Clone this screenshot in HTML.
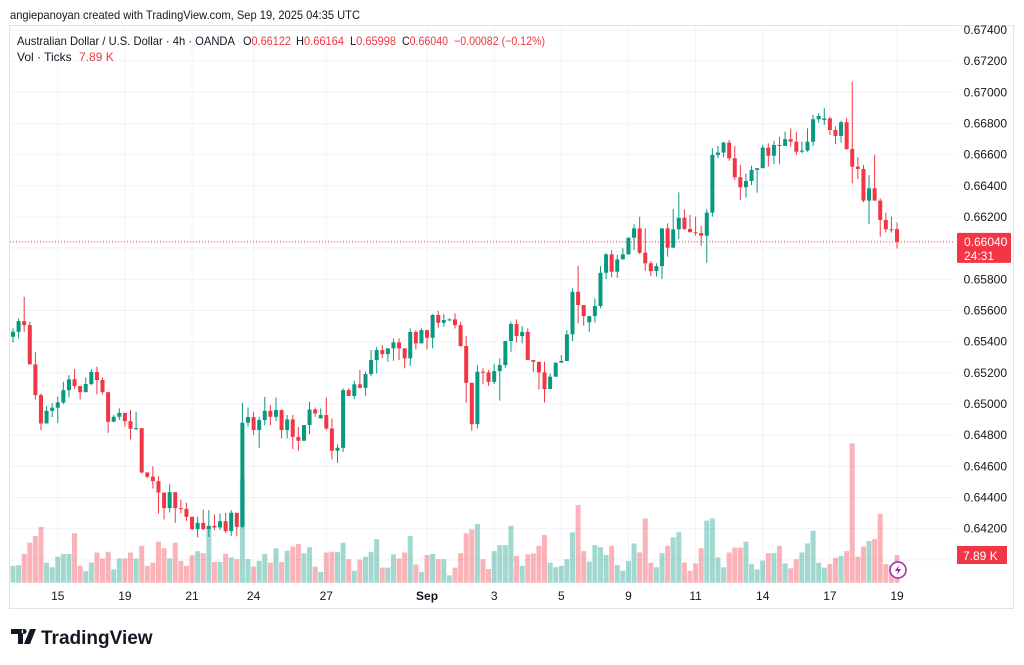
<!DOCTYPE html>
<html><head><meta charset="utf-8"><style>
body{margin:0;background:#fff;width:1024px;height:665px;overflow:hidden;font-family:"Liberation Sans",sans-serif}
svg{display:block}
text{font-family:"Liberation Sans",sans-serif}
</style></head><body>
<svg id="chart" width="1024" height="665" viewBox="0 0 1024 665">
<text x="10" y="19" font-size="12" fill="#131722" textLength="350" lengthAdjust="spacingAndGlyphs">angiepanoyan created with TradingView.com, Sep 19, 2025 04:35 UTC</text>
<rect x="9.5" y="25.5" width="1004" height="583" fill="none" stroke="#e0e3eb"/>
<g id="grid"></g>
<g id="vol"></g>
<g id="candles"></g>
<g id="axis"></g>
<g id="taxis"></g>
<g font-size="12" fill="#131722">
<text x="17" y="45" textLength="218" lengthAdjust="spacingAndGlyphs">Australian Dollar / U.S. Dollar · 4h · OANDA</text>
<text x="243" y="45" textLength="48" lengthAdjust="spacingAndGlyphs">O<tspan fill="#f23645">0.66122</tspan></text>
<text x="296" y="45" textLength="48" lengthAdjust="spacingAndGlyphs">H<tspan fill="#f23645">0.66164</tspan></text>
<text x="350" y="45" textLength="46" lengthAdjust="spacingAndGlyphs">L<tspan fill="#f23645">0.65998</tspan></text>
<text x="402" y="45" textLength="46" lengthAdjust="spacingAndGlyphs">C<tspan fill="#f23645">0.66040</tspan></text>
<text x="454" y="45" fill="#f23645" textLength="91" lengthAdjust="spacingAndGlyphs">−0.00082 (−0.12%)</text>
</g>
<text x="17" y="61" font-size="12" fill="#131722">Vol · Ticks <tspan dx="4" fill="#f23645">7.89 K</tspan></text>
<g>
<path d="M11 629h12v15h-5v-10h-7z M24 629a2.5 2.5 0 1 0 .1 0z M30 629h6l-6 15h-6z" fill="#131722"/>
<text x="41" y="644" font-size="19" font-weight="bold" fill="#131722">TradingView</text>
</g>
<g><circle cx="898" cy="570" r="8" fill="#fff" stroke="#9c27b0" stroke-width="1.5"/><path d="M899 565l-4 6h3l-1 4 4-6h-3z" fill="#9c27b0"/></g>
</svg>
<script>
const closes=[0.65463,0.65532,0.65506,0.65254,0.65057,0.64875,0.64956,0.64976,0.65010,0.65089,0.65158,0.65115,0.65076,0.65128,0.65205,0.65154,0.65076,0.64886,0.64918,0.64943,0.64890,0.64841,0.64845,0.64561,0.64533,0.64505,0.64432,0.64332,0.64434,0.64332,0.64327,0.64276,0.64197,0.64237,0.64197,0.64218,0.64208,0.64248,0.64184,0.64302,0.64212,0.64880,0.64916,0.64833,0.64897,0.64956,0.64918,0.64961,0.64833,0.64901,0.64789,0.64764,0.64865,0.64965,0.64940,0.64929,0.64843,0.64700,0.64719,0.65089,0.65051,0.65126,0.65104,0.65192,0.65282,0.65346,0.65320,0.65357,0.65395,0.65357,0.65293,0.65462,0.65389,0.65474,0.65425,0.65571,0.65521,0.65539,0.65543,0.65506,0.65372,0.65136,0.64871,0.65207,0.65203,0.65142,0.65211,0.65250,0.65404,0.65513,0.65436,0.65463,0.65282,0.65271,0.65203,0.65096,0.65175,0.65265,0.65276,0.65447,0.65720,0.65635,0.65564,0.65564,0.65629,0.65842,0.65960,0.65849,0.65928,0.65960,0.66067,0.66127,0.65971,0.65903,0.65853,0.65885,0.66127,0.66003,0.66121,0.66195,0.66123,0.66102,0.66097,0.66080,0.66228,0.66598,0.66613,0.66677,0.66577,0.66455,0.66391,0.66431,0.66502,0.66513,0.66645,0.66593,0.66662,0.66656,0.66699,0.66683,0.66619,0.66626,0.66683,0.66827,0.66848,0.66833,0.66758,0.66720,0.66808,0.66636,0.66523,0.66508,0.66305,0.66384,0.66305,0.66181,0.66121,0.66117,0.66040];
const opens=[0.65431,0.65463,0.65532,0.65506,0.65254,0.65057,0.64875,0.64956,0.64976,0.65010,0.65089,0.65158,0.65115,0.65076,0.65128,0.65205,0.65154,0.65076,0.64886,0.64918,0.64943,0.64890,0.64841,0.64845,0.64561,0.64533,0.64505,0.64432,0.64332,0.64434,0.64332,0.64327,0.64276,0.64197,0.64237,0.64197,0.64218,0.64208,0.64248,0.64184,0.64302,0.64212,0.64880,0.64916,0.64833,0.64897,0.64956,0.64918,0.64961,0.64833,0.64901,0.64789,0.64764,0.64865,0.64965,0.64908,0.64929,0.64843,0.64700,0.64719,0.65089,0.65051,0.65126,0.65104,0.65192,0.65282,0.65346,0.65320,0.65357,0.65395,0.65357,0.65293,0.65462,0.65389,0.65474,0.65425,0.65571,0.65521,0.65539,0.65543,0.65506,0.65372,0.65136,0.64871,0.65207,0.65203,0.65142,0.65211,0.65250,0.65404,0.65513,0.65436,0.65463,0.65282,0.65271,0.65203,0.65096,0.65175,0.65265,0.65276,0.65447,0.65720,0.65635,0.65524,0.65564,0.65629,0.65842,0.65960,0.65849,0.65928,0.65960,0.66067,0.66127,0.65971,0.65903,0.65853,0.65885,0.66127,0.66003,0.66121,0.66195,0.66123,0.66102,0.66097,0.66080,0.66228,0.66598,0.66613,0.66677,0.66577,0.66455,0.66391,0.66431,0.66502,0.66513,0.66645,0.66593,0.66662,0.66656,0.66699,0.66683,0.66619,0.66626,0.66683,0.66827,0.66823,0.66833,0.66758,0.66720,0.66808,0.66636,0.66523,0.66508,0.66305,0.66384,0.66305,0.66181,0.66121,0.66122];
const highs=[0.65485,0.65550,0.65688,0.65528,0.65335,0.65068,0.64986,0.65004,0.65046,0.65143,0.65185,0.65224,0.65115,0.65171,0.65222,0.65239,0.65171,0.65076,0.64929,0.64972,0.64943,0.64961,0.64950,0.64843,0.64561,0.64601,0.64537,0.64432,0.64486,0.64434,0.64387,0.64366,0.64276,0.64276,0.64323,0.64319,0.64291,0.64298,0.64301,0.64319,0.64301,0.65008,0.64978,0.64950,0.64918,0.65046,0.64993,0.65042,0.64965,0.64929,0.64929,0.64854,0.64864,0.65014,0.64978,0.64972,0.65042,0.64908,0.64741,0.65100,0.65100,0.65149,0.65218,0.65207,0.65346,0.65367,0.65378,0.65357,0.65421,0.65421,0.65357,0.65485,0.65474,0.65485,0.65474,0.65577,0.65598,0.65577,0.65550,0.65582,0.65528,0.65436,0.65136,0.65250,0.65229,0.65218,0.65256,0.65293,0.65404,0.65528,0.65543,0.65500,0.65485,0.65282,0.65271,0.65271,0.65196,0.65265,0.65314,0.65474,0.65742,0.65887,0.65635,0.65564,0.65678,0.65885,0.65967,0.65988,0.65956,0.65999,0.66067,0.66153,0.66202,0.66127,0.65917,0.65903,0.66127,0.66159,0.66251,0.66358,0.66249,0.66213,0.66202,0.66142,0.66249,0.66641,0.66656,0.66683,0.66694,0.66656,0.66534,0.66480,0.66529,0.66513,0.66662,0.66673,0.66688,0.66715,0.66747,0.66769,0.66747,0.66683,0.66769,0.66855,0.66866,0.66898,0.66844,0.66780,0.66818,0.66834,0.67068,0.66583,0.66534,0.66469,0.66598,0.66320,0.66227,0.66202,0.66164];
const lows=[0.65393,0.65421,0.65463,0.65254,0.65029,0.64832,0.64875,0.64916,0.64879,0.64999,0.65042,0.65098,0.65029,0.65076,0.65121,0.65062,0.65062,0.64815,0.64884,0.64897,0.64854,0.64773,0.64832,0.64554,0.64524,0.64458,0.64298,0.64259,0.64304,0.64237,0.64298,0.64250,0.64190,0.64144,0.64190,0.64147,0.64190,0.64190,0.64173,0.64152,0.64152,0.64203,0.64854,0.64800,0.64719,0.64864,0.64864,0.64892,0.64779,0.64779,0.64710,0.64700,0.64764,0.64807,0.64918,0.64908,0.64832,0.64644,0.64622,0.64693,0.65051,0.65031,0.65100,0.65053,0.65179,0.65196,0.65293,0.65271,0.65277,0.65282,0.65229,0.65245,0.65350,0.65389,0.65350,0.65357,0.65489,0.65496,0.65532,0.65485,0.65367,0.65008,0.64828,0.64843,0.65126,0.65115,0.65128,0.65021,0.65232,0.65335,0.65395,0.65389,0.65282,0.65207,0.65094,0.65010,0.65096,0.65175,0.65265,0.65276,0.65404,0.65517,0.65502,0.65463,0.65524,0.65614,0.65802,0.65813,0.65810,0.65928,0.65960,0.65988,0.65962,0.65855,0.65821,0.65817,0.65802,0.65945,0.66003,0.66059,0.66116,0.66102,0.66080,0.66016,0.65906,0.66202,0.66577,0.66583,0.66561,0.66437,0.66309,0.66324,0.66405,0.66356,0.66513,0.66523,0.66540,0.66538,0.66656,0.66651,0.66598,0.66609,0.66619,0.66656,0.66805,0.66790,0.66726,0.66669,0.66677,0.66630,0.66416,0.66444,0.66294,0.66155,0.66305,0.66073,0.66102,0.66099,0.65998];
const volumes=[4.8,5.0,8.2,11.4,13.3,15.9,5.7,4.4,7.4,8.2,8.2,14.1,4.8,3.3,5.7,8.6,6.9,8.8,3.8,6.9,6.9,8.6,6.9,10.5,4.8,5.7,11.7,9.8,6.9,11.4,6.2,4.8,7.8,9.0,8.4,16.0,5.9,5.9,8.2,7.2,6.7,29.5,6.7,4.6,6.2,8.2,5.7,9.8,5.9,9.1,10.3,11.0,8.4,10.1,4.6,3.1,8.6,8.8,8.8,11.4,6.7,3.4,6.6,7.4,8.8,12.4,4.3,4.3,8.1,6.9,8.6,13.3,5.2,3.1,7.9,8.2,6.7,6.7,2.1,4.3,8.4,14.1,15.2,16.7,6.7,3.9,9.0,10.7,10.7,16.2,7.6,4.8,8.1,8.3,10.5,13.6,5.7,4.4,4.8,6.7,14.3,22.1,9.0,6.0,10.7,10.1,7.9,10.5,5.0,3.4,6.2,11.2,8.6,18.3,5.7,4.4,8.4,10.5,12.9,14.4,5.7,3.4,5.5,9.8,17.7,18.3,7.2,4.4,8.6,10.0,10.0,11.7,5.3,3.8,6.3,8.4,8.4,10.5,5.5,4.1,6.7,8.6,11.2,14.8,5.7,4.3,5.3,7.1,7.6,9.0,39.7,7.4,10.3,11.9,12.4,19.6,5.3,5.0,7.89];
const priceTicks=["0.67400","0.67200","0.67000","0.66800","0.66600","0.66400","0.66200","0.66000","0.65800","0.65600","0.65400","0.65200","0.65000","0.64800","0.64600","0.64400","0.64200","0.64000"];
const dateLabels=["15","19","21","24","27","Sep","3","5","9","11","14","17","19"];
const dateIndex=[8,20,32,43,56,74,86,98,110,122,134,146,158];

const NS="http://www.w3.org/2000/svg";
function el(t,a,p){const e=document.createElementNS(NS,t);for(const k in a)e.setAttribute(k,a[k]);p.appendChild(e);return e;}
const xOf=i=>13+5.595*i;
const yOf=p=>92.3+(0.670-p)*15585;
const vBase=582.7, vScale=3.51;
const G="#089981",R="#f23645";
const grid=document.getElementById('grid'),axis=document.getElementById('axis'),taxis=document.getElementById('taxis');
priceTicks.forEach(t=>{const y=yOf(parseFloat(t));
 if(y<583){const l=el('line',{x1:10,x2:955,y1:y,y2:y,stroke:'#f0f3fa'},grid);
 
 }
 const tx=el('text',{x:1007,y:y+4,'font-size':12,'text-anchor':'end',fill:'#131722'},axis);tx.textContent=t;
 
 
});
dateLabels.forEach((d,j)=>{const x=xOf(dateIndex[j]);
 const l=el('line',{x1:x,x2:x,y1:26,y2:583,stroke:'#f0f3fa'},grid);
 
 
 const tx=el('text',{x:x,y:600,'font-size':12,'text-anchor':'middle',fill:'#131722','font-weight':d==='Sep'?'bold':'normal'},taxis);tx.textContent=d;
 
 
});
const vg=document.getElementById('vol'),cg=document.getElementById('candles');
closes.forEach((c,i)=>{const o=opens[i],up=c>=o,x=xOf(i);
 const h=volumes[i]*vScale;
 const vb=el('rect',{x:x-2.5,y:vBase-h,width:5,height:h,fill:up?'rgba(8,153,129,0.38)':'rgba(242,54,69,0.38)'},vg);
 
 
 const col=up?G:R;
 const w=el('line',{x1:x,x2:x,y1:yOf(highs[i]),y2:yOf(lows[i]),stroke:col,'stroke-width':1},cg);
 
 
 const yt=yOf(Math.max(o,c)),yb=yOf(Math.min(o,c));
 const b=el('rect',{x:x-2,y:yt,width:4,height:Math.max(1,yb-yt),fill:col},cg);
 
 
});
const last=closes[closes.length-1],ly=yOf(last);
const dl=el('line',{x1:10,x2:955,y1:ly,y2:ly,stroke:R,'stroke-width':1,'stroke-dasharray':'1 2'},axis);


const bx=el('rect',{x:957,y:ly-9,width:54,height:30,fill:R,rx:1},axis);


const t1=el('text',{x:964,y:ly+4,'font-size':12,fill:'#fff'},axis);t1.textContent=last.toFixed(5);


const t2=el('text',{x:964,y:ly+18,'font-size':12,fill:'#fff'},axis);t2.textContent='24:31';


const vy=vBase-volumes[volumes.length-1]*vScale;
const vbx=el('rect',{x:957,y:vy-9,width:50,height:18,fill:R},axis);


const vt=el('text',{x:963,y:vy+5,'font-size':12,fill:'#fff'},axis);vt.textContent=volumes[volumes.length-1].toFixed(2)+' K';


</script>
</body></html>
